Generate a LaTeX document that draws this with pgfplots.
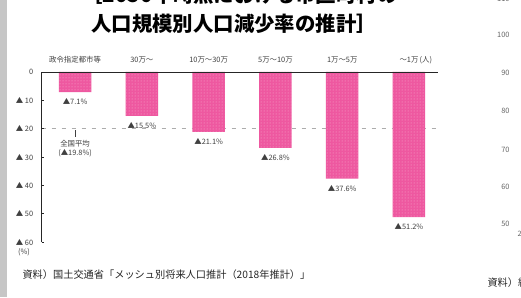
\documentclass[border=0pt]{standalone}
\usepackage{fontspec}
\setmainfont{Noto Sans CJK JP}
\usepackage{pgfplots}
\usepackage{pgfplotstable}
\pgfplotsset{compat=1.18}
\usetikzlibrary{patterns.meta}
\definecolor{barpink}{RGB}{238,88,160}
\definecolor{dotpink}{RGB}{250,175,208}
\definecolor{txt}{RGB}{64,64,64}
\definecolor{sidebar}{RGB}{198,198,198}

\pgfplotstableread{
i v
0 7.1
1 15.5
2 21.1
3 26.8
4 37.6
5 51.2
}\decline

\newcommand{\lblfont}{\fontsize{7.4}{9}\selectfont}

\begin{document}
\begin{tikzpicture}[x=1pt,y=1pt]
\useasboundingbox (0,0) rectangle (521,297);
\clip (0,0) rectangle (521,297);
\fill[white] (0,0) rectangle (521,297);
\fill[sidebar] (0,0) rectangle (7,297);

% title
\node[font=\fontsize{20.4}{24}\selectfont\bfseries, anchor=center] at (240,297+5) {［2050年時点における市区町村の};
\node[font=\fontsize{20.4}{24}\selectfont\bfseries, anchor=center] at (234,297-24) {人口規模別人口減少率の推計］};

\begin{axis}[
  at={(41.7pt,225pt)}, anchor=north west,
  scale only axis, width=396pt, height=170pt,
  xmin=-0.5, xmax=5.43, ymin=-60, ymax=0,
  axis x line=top, axis y line=left,
  axis line style={-, black!85, line width=0.6pt},
  axis on top, clip=false,
  xtick={0,...,5},
  xticklabels={政令指定都市等,30万～,10万～30万,5万～10万,1万～5万,～1万\rlap{\,(人)}},
  xtick style={draw=none},
  ytick={-60,-50,...,0},
  yticklabels={▲ 60,▲ 50,▲ 40,▲ 30,▲ 20,▲ 10,0},
  tick align=inside, major tick length=2pt,
  ytick style={black!85, line width=0.5pt},
  tick label style={font=\lblfont, text=txt},
  xticklabel style={yshift=5pt},
  yticklabel style={xshift=-5pt},
  /pgf/number format/assume math mode=true,
]
% national average
\addplot[forget plot, gray!65, dash pattern=on 4pt off 6pt, line width=0.6pt]
  coordinates {(-0.5,-19.8) (5.43,-19.8)};

\addplot[ybar, bar width=32.5pt, fill=barpink, draw=none,
  postaction={pattern={Dots[distance=3pt,radius=0.5pt]}, pattern color=dotpink},
  point meta=\thisrow{v},
  nodes near coords={▲\pgfmathprintnumber[fixed,fixed zerofill,precision=1]{\pgfplotspointmeta}\%},
  nodes near coords align=center,
  every node near coord/.append style={font=\lblfont, text=txt, anchor=center, yshift=-9.5pt}]
  table[x=i, y expr=-\thisrow{v}] {\decline};

\draw[txt, line width=0.5pt] (axis cs:0,-20.6) -- (axis cs:0,-23);
\node[font=\lblfont, text=txt] at (axis cs:0,-25.4) {全国平均};
\node[font=\lblfont, text=txt] at (axis cs:0,-28.6) {(▲19.8\%)};
\end{axis}

\node[font=\lblfont, text=txt] at (24,45) {(\%)};
\node[font=\fontsize{10.2}{12}\selectfont, text=black!85, anchor=west] at (19,22)
  {資料）国土交通省「メッシュ別将来人口推計（2018年推計）」};

% neighbouring panel
\begin{scope}[font=\fontsize{7.4}{9}\selectfont, text=gray!80!black]
\node[anchor=east] at (513,297+1) {110};
\node[anchor=east] at (513,262) {100};
\node[anchor=east] at (513,224) {90};
\node[anchor=east] at (513,186) {80};
\node[anchor=east] at (513,147) {70};
\node[anchor=east] at (513,110) {60};
\node[anchor=east] at (513,73) {50};
\node[anchor=west] at (514,63) {20};
\end{scope}
\node[font=\fontsize{10.2}{12}\selectfont, text=black!85, anchor=west] at (484,14) {資料）総務};
\end{tikzpicture}
\end{document}
